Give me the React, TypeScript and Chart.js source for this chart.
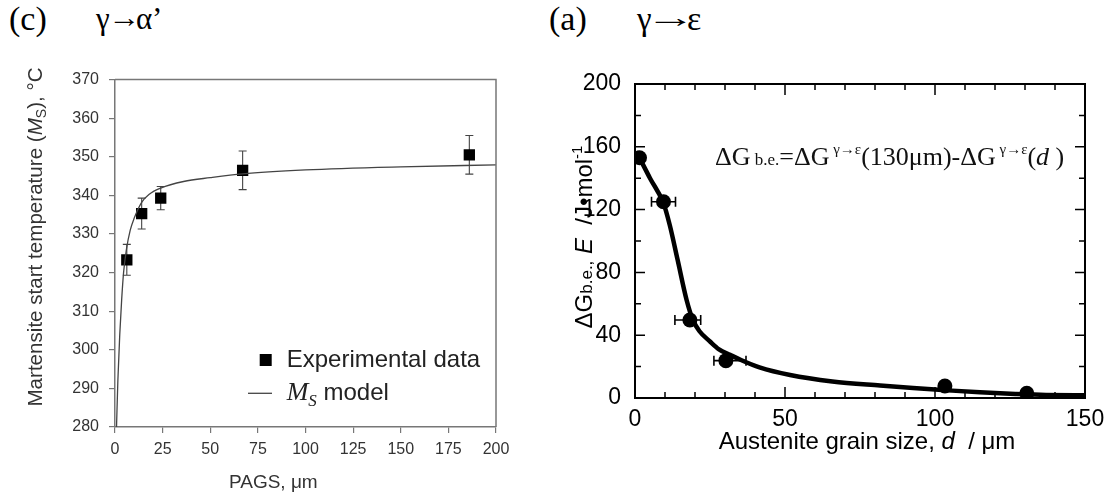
import React, { useEffect, useRef } from "react";
import { Chart, registerables } from "chart.js";

Chart.register(...registerables);

// ---------- Panel (c): gamma -> alpha' ----------
const pagsUm = [6.2, 14, 24, 67, 186];
const msMeasured = [323.3, 335.3, 339.3, 346.5, 350.5];
const msError = [4, 4, 3, 5, 5];
const modelPags = [0.8, 1.5, 2.5, 3.5, 4.5, 6, 8, 10, 14, 18, 24, 36, 50, 67, 100, 150, 200];
const modelMs = [280, 292, 304, 313, 320, 326, 331, 334, 338.2, 340.3, 341.9, 343.6, 344.6, 345.6, 346.6, 347.4, 347.9];
const leftXRange = [0, 200];
const leftXStep = 25;
const leftYRange = [280, 370];
const leftYStep = 10;

// ---------- Panel (a): gamma -> epsilon ----------
const grainSize = [1.5, 9.5, 18.3, 30.3, 103.3, 130.6];
const dGbe = [153, 125, 49.7, 23.8, 7.6, 3.0];
const grainErrLow = [0, 4, 5, 4, 0, 0];
const grainErrHigh = [0, 4, 3.6, 6.7, 0, 0];
const fitGrain = [1.5, 5, 9.5, 11.6, 14.2, 17.2, 19.3, 21.5, 25, 28, 31.7, 35, 41.5, 51.7, 65.8, 81.7, 92.7, 102.4, 115, 126.8, 137, 150];
const fitDG = [153, 140, 124, 110, 88, 62.4, 49.7, 42.5, 36, 31, 27.5, 24.5, 19.5, 14.6, 10.5, 7.9, 6.3, 5.1, 3.6, 2.5, 1.9, 1.8];
const rightXRange = [0, 150];
const rightXStep = 50;
const rightXMinor = [10, 20, 30, 40, 60, 70, 80, 90, 110, 120, 130, 140];
const rightXMajor = [50, 100];
const rightYRange = [0, 200];
const rightYStep = 40;
const rightYMinor = [20, 60, 100, 140, 180];
const rightYMajor = [40, 80, 120, 160];

const SANS = "'Liberation Sans', Arial, sans-serif";
const SERIF = "'Liberation Serif', 'Times New Roman', serif";

type Run = { t: string; font: string; dy?: number };

function runsWidth(ctx: CanvasRenderingContext2D, runs: Run[]) {
  let w = 0;
  for (const r of runs) {
    ctx.font = r.font;
    w += ctx.measureText(r.t).width;
  }
  return w;
}

function drawRuns(ctx: CanvasRenderingContext2D, runs: Run[], x: number, y: number, align: "left" | "center") {
  const w = runsWidth(ctx, runs);
  let cx = align === "center" ? x - w / 2 : x;
  ctx.textAlign = "left";
  ctx.textBaseline = "alphabetic";
  for (const r of runs) {
    ctx.font = r.font;
    ctx.fillText(r.t, cx, y + (r.dy || 0));
    cx += ctx.measureText(r.t).width;
  }
}

function drawRotatedRuns(ctx: CanvasRenderingContext2D, runs: Run[], baseX: number, centerY: number) {
  ctx.save();
  ctx.translate(baseX, centerY);
  ctx.rotate(-Math.PI / 2);
  drawRuns(ctx, runs, 0, 0, "center");
  ctx.restore();
}

const leftPlugin = {
  id: "leftDecor",
  beforeDatasetsDraw(chart: any) {
    const ctx = chart.ctx as CanvasRenderingContext2D;
    const xs = chart.scales.x;
    const ys = chart.scales.y;
    ctx.save();
    ctx.strokeStyle = "#444";
    ctx.lineWidth = 1.1;
    for (let i = 0; i < pagsUm.length; i++) {
      const px = xs.getPixelForValue(pagsUm[i]);
      const y1 = ys.getPixelForValue(msMeasured[i] - msError[i]);
      const y2 = ys.getPixelForValue(msMeasured[i] + msError[i]);
      ctx.beginPath();
      ctx.moveTo(px, y1);
      ctx.lineTo(px, y2);
      ctx.moveTo(px - 4, y1);
      ctx.lineTo(px + 4, y1);
      ctx.moveTo(px - 4, y2);
      ctx.lineTo(px + 4, y2);
      ctx.stroke();
    }
    ctx.restore();
  },
  afterDraw(chart: any) {
    const ctx = chart.ctx as CanvasRenderingContext2D;
    const a = chart.chartArea;
    ctx.save();
    ctx.strokeStyle = "#777";
    ctx.lineWidth = 1.5;
    ctx.beginPath();
    ctx.moveTo(a.left, a.top);
    ctx.lineTo(a.right, a.top);
    ctx.lineTo(a.right, a.bottom);
    ctx.stroke();

    // legend
    ctx.fillStyle = "#000";
    ctx.fillRect(259.7, 294, 12, 12);
    ctx.fillStyle = "#222";
    drawRuns(ctx, [{ t: "Experimental data", font: `24px ${SANS}` }], 286.7, 306.7, "left");
    ctx.strokeStyle = "#444";
    ctx.lineWidth = 1.3;
    ctx.beginPath();
    ctx.moveTo(248, 333.3);
    ctx.lineTo(272, 333.3);
    ctx.stroke();
    drawRuns(
      ctx,
      [
        { t: "M", font: `italic 26px ${SERIF}` },
        { t: "S", font: `italic 17px ${SERIF}`, dy: 6 },
        { t: " model", font: `24px ${SANS}` },
      ],
      286.7,
      340,
      "left"
    );

    // axis titles
    ctx.fillStyle = "#333";
    drawRotatedRuns(
      ctx,
      [
        { t: "Martensite start temperature (", font: `20.6px ${SANS}` },
        { t: "M", font: `italic 20.6px ${SANS}` },
        { t: "S", font: `14px ${SANS}`, dy: 4 },
        { t: "), °C", font: `20.6px ${SANS}` },
      ],
      41.7,
      177
    );
    drawRuns(ctx, [{ t: "PAGS, μm", font: `19px ${SANS}` }], 273.3, 428.3, "center");
    ctx.restore();
  },
};

const rightPlugin = {
  id: "rightDecor",
  afterDatasetsDraw(chart: any) {
    const ctx = chart.ctx as CanvasRenderingContext2D;
    const xs = chart.scales.x;
    const ys = chart.scales.y;
    const a = chart.chartArea;
    ctx.save();
    ctx.strokeStyle = "#000";
    ctx.lineWidth = 1.6;
    for (let i = 0; i < grainSize.length; i++) {
      if (!grainErrLow[i] && !grainErrHigh[i]) continue;
      const py = ys.getPixelForValue(dGbe[i]);
      const x1 = xs.getPixelForValue(grainSize[i] - grainErrLow[i]);
      const x2 = xs.getPixelForValue(grainSize[i] + grainErrHigh[i]);
      ctx.beginPath();
      ctx.moveTo(x1, py);
      ctx.lineTo(x2, py);
      ctx.moveTo(x1, py - 5);
      ctx.lineTo(x1, py + 5);
      ctx.moveTo(x2, py - 5);
      ctx.lineTo(x2, py + 5);
      ctx.stroke();
    }
    ctx.lineWidth = 2;
    ctx.beginPath();
    ctx.moveTo(a.left, a.top);
    ctx.lineTo(a.right, a.top);
    ctx.lineTo(a.right, a.bottom);
    ctx.stroke();
    ctx.lineWidth = 1.5;
    const xTick = (v: number, len: number) => {
      const px = xs.getPixelForValue(v);
      ctx.beginPath();
      ctx.moveTo(px, a.bottom);
      ctx.lineTo(px, a.bottom - len);
      ctx.moveTo(px, a.top);
      ctx.lineTo(px, a.top + len);
      ctx.stroke();
    };
    const yTick = (v: number, len: number) => {
      const py = ys.getPixelForValue(v);
      ctx.beginPath();
      ctx.moveTo(a.left, py);
      ctx.lineTo(a.left + len, py);
      ctx.moveTo(a.right, py);
      ctx.lineTo(a.right - len, py);
      ctx.stroke();
    };
    rightXMinor.forEach((v) => xTick(v, 6));
    rightXMajor.forEach((v) => xTick(v, 11));
    rightYMinor.forEach((v) => yTick(v, 6));
    rightYMajor.forEach((v) => yTick(v, 10));

    ctx.fillStyle = "#111";
    const sup = `15px ${SERIF}`;
    const main = `26px ${SERIF}`;
    drawRuns(
      ctx,
      [
        { t: "ΔG", font: main },
        { t: " b.e.", font: `17px ${SERIF}` },
        { t: "=ΔG", font: main },
        { t: " γ→ε", font: sup, dy: -11 },
        { t: "(130μm)-ΔG", font: main },
        { t: " γ→ε", font: sup, dy: -11 },
        { t: "(", font: main },
        { t: "d", font: `italic 26px ${SERIF}` },
        { t: " )", font: main },
      ],
      175,
      105,
      "left"
    );

    ctx.fillStyle = "#000";
    drawRotatedRuns(
      ctx,
      [
        { t: "ΔG", font: `24px ${SANS}` },
        { t: "b.e.,", font: `17px ${SANS}` },
        { t: " ", font: `24px ${SANS}` },
        { t: "E", font: `italic 24px ${SANS}` },
        { t: "  /J•mol", font: `24px ${SANS}` },
        { t: "-1", font: `15px ${SANS}`, dy: -10 },
      ],
      52,
      177
    );
    drawRuns(
      ctx,
      [
        { t: "Austenite grain size, ", font: `24px ${SANS}` },
        { t: "d", font: `italic 24px ${SANS}` },
        { t: "  / μm", font: `24px ${SANS}` },
      ],
      327,
      389,
      "center"
    );
    ctx.restore();
  },
};

function LeftChart() {
  const ref = useRef<HTMLCanvasElement>(null);
  useEffect(() => {
    if (!ref.current) return;
    const chart = new Chart(ref.current, {
      type: "scatter",
      data: {
        datasets: [
          {
            label: "Ms model",
            data: modelPags.map((x, i) => ({ x, y: modelMs[i] })),
            showLine: true,
            borderColor: "#444",
            borderWidth: 1.3,
            pointRadius: 0,
            cubicInterpolationMode: "monotone",
          } as any,
          {
            label: "Experimental data",
            data: pagsUm.map((x, i) => ({ x, y: msMeasured[i] })),
            pointStyle: "rect",
            pointRadius: 8,
            pointHoverRadius: 8,
            backgroundColor: "#000",
            borderColor: "#000",
            borderWidth: 0,
          },
        ],
      },
      options: {
        animation: false,
        responsive: false,
        layout: { padding: { top: 15, right: 44, left: 0, bottom: 0 } },
        plugins: { legend: { display: false }, tooltip: { enabled: false } },
        scales: {
          x: {
            type: "linear",
            min: leftXRange[0],
            max: leftXRange[1],
            ticks: { stepSize: leftXStep, color: "#333", font: { family: SANS, size: 16 }, padding: 7 },
            grid: { drawOnChartArea: false, drawTicks: true, tickLength: 6, color: "#777", lineWidth: 1.2 },
            border: { color: "#777", width: 1.5 },
            afterFit: (s: any) => {
              s.height = 72;
            },
          },
          y: {
            type: "linear",
            min: leftYRange[0],
            max: leftYRange[1],
            ticks: { stepSize: leftYStep, color: "#333", font: { family: SANS, size: 16 }, padding: 10 },
            grid: { drawOnChartArea: false, drawTicks: true, tickLength: 6, color: "#777", lineWidth: 1.2 },
            border: { color: "#777", width: 1.5 },
            afterFit: (s: any) => {
              s.width = 115;
            },
          },
        },
      },
      plugins: [leftPlugin],
    });
    return () => chart.destroy();
  }, []);
  return <canvas ref={ref} width={540} height={439} style={{ position: "absolute", left: 0, top: 60, width: 540, height: 439 }} />;
}

function RightChart() {
  const ref = useRef<HTMLCanvasElement>(null);
  useEffect(() => {
    if (!ref.current) return;
    const chart = new Chart(ref.current, {
      type: "scatter",
      data: {
        datasets: [
          {
            label: "fit",
            data: fitGrain.map((x, i) => ({ x, y: fitDG[i] })),
            showLine: true,
            borderColor: "#000",
            borderWidth: 4.5,
            pointRadius: 0,
            cubicInterpolationMode: "monotone",
          } as any,
          {
            label: "ΔG b.e.",
            data: grainSize.map((x, i) => ({ x, y: dGbe[i] })),
            pointStyle: "circle",
            pointRadius: 7.5,
            pointHoverRadius: 7.5,
            backgroundColor: "#000",
            borderColor: "#000",
            borderWidth: 0,
          },
        ],
      },
      options: {
        animation: false,
        responsive: false,
        layout: { padding: { top: 24, right: 31, left: 0, bottom: 0 } },
        plugins: { legend: { display: false }, tooltip: { enabled: false } },
        scales: {
          x: {
            type: "linear",
            min: rightXRange[0],
            max: rightXRange[1],
            ticks: { stepSize: rightXStep, color: "#000", font: { family: SANS, size: 23 }, padding: 0 },
            grid: { display: false },
            border: { color: "#000", width: 2 },
            afterFit: (s: any) => {
              s.height = 101;
            },
          },
          y: {
            type: "linear",
            min: rightYRange[0],
            max: rightYRange[1],
            ticks: { stepSize: rightYStep, color: "#000", font: { family: SANS, size: 23 }, padding: 6 },
            grid: { display: false },
            border: { color: "#000", width: 2 },
            afterFit: (s: any) => {
              s.width = 95;
            },
          },
        },
      },
      plugins: [rightPlugin],
    });
    return () => chart.destroy();
  }, []);
  return <canvas ref={ref} width={576} height={439} style={{ position: "absolute", left: 540, top: 60, width: 576, height: 439 }} />;
}

const headStyle: React.CSSProperties = {
  position: "absolute",
  top: 2,
  fontFamily: SERIF,
  fontSize: 34,
  lineHeight: "34px",
  color: "#000",
  whiteSpace: "nowrap",
};

const arrowStyle: React.CSSProperties = {
  position: "absolute",
  top: 4,
  fontFamily: SERIF,
  fontSize: 28,
  lineHeight: "28px",
  color: "#000",
  whiteSpace: "nowrap",
  transformOrigin: "left center",
};

export default function App() {
  return (
    <div style={{ position: "fixed", left: 0, top: 0, width: 1116, height: 499, background: "#fff", overflow: "hidden" }}>
      <div style={{ ...headStyle, left: 9 }}>(c)</div>
      <div style={{ ...headStyle, left: 96, fontSize: 31 }}>γ</div>
      <div style={{ ...arrowStyle, left: 108, transform: "scaleX(1.15)" }}>→</div>
      <div style={{ ...headStyle, left: 136, fontSize: 31 }}>α</div>
      <div style={{ ...headStyle, left: 152, fontSize: 31 }}>’</div>
      <div style={{ ...headStyle, left: 549 }}>(a)</div>
      <div style={{ ...headStyle, left: 637, fontSize: 33 }}>γ</div>
      <div style={{ ...arrowStyle, left: 645, transform: "scaleX(1.8)" }}>→</div>
      <div style={{ ...headStyle, left: 687, fontSize: 34 }}>ε</div>
      <LeftChart />
      <RightChart />
    </div>
  );
}
